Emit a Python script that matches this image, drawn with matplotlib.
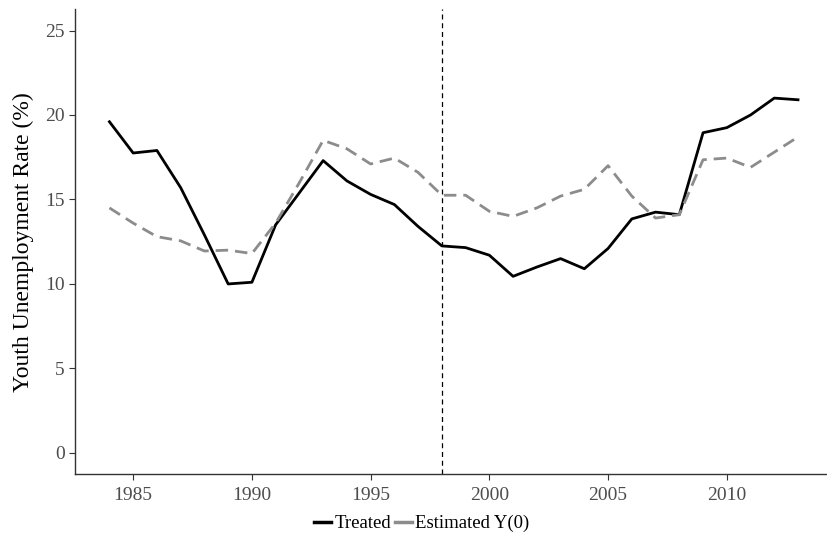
import matplotlib
matplotlib.use("Agg")
import matplotlib.pyplot as plt
from matplotlib.lines import Line2D

plt.rcParams["font.family"] = ["Liberation Serif", "DejaVu Serif"]

years = list(range(1984, 2014))
treated = [19.6, 17.75, 17.9, 15.7, 12.9, 10.0, 10.1, 13.5, 15.4, 17.3,
           16.1, 15.3, 14.7, 13.4, 12.25, 12.15, 11.7, 10.45, 11.0, 11.5,
           10.9, 12.1, 13.85, 14.25, 14.1, 18.95, 19.25, 20.0, 21.0, 20.9]
estimated = [14.5, 13.6, 12.8, 12.55, 11.95, 12.0, 11.8, 13.6, 16.0, 18.5,
             18.0, 17.1, 17.45, 16.6, 15.25, 15.25, 14.3, 14.0, 14.5, 15.2,
             15.6, 17.0, 15.2, 13.9, 14.1, 17.35, 17.45, 16.9, 17.8, 18.7]
treat_year = 1998

fig = plt.figure(figsize=(8.27, 5.4), dpi=100)
ax = fig.add_axes([0.0907, 0.1222, 0.9093, 0.8604])

ax.plot(years, treated, color="black", lw=2.0, label="Treated")
ax.plot(years, estimated, color="#8c8c8c", lw=2.0, ls=(0, (4.5, 2.5)), label="Estimated Y(0)")
ax.axvline(treat_year, color="black", lw=0.9, ls=(0, (4, 3)))

ax.set_xlim(1982.55, 2014.22)
ax.set_ylim(-1.25, 26.25)
ax.set_xticks([1985, 1990, 1995, 2000, 2005, 2010])
ax.set_yticks([0, 5, 10, 15, 20, 25])

for s in ["top", "right"]:
    ax.spines[s].set_visible(False)
for s in ["left", "bottom"]:
    ax.spines[s].set_color("#333333")
    ax.spines[s].set_linewidth(1.0)
ax.tick_params(colors="#333333", labelcolor="#4d4d4d", labelsize=14, length=4, width=0.8)
ax.tick_params(axis="x", pad=5)

ax.set_ylabel("Youth Unemployment Rate (%)", fontsize=17, color="black", labelpad=8)

handles = [Line2D([], [], color="black", lw=2.5),
           Line2D([], [], color="#8c8c8c", lw=2.5)]
fig.legend(handles, ["Treated", "Estimated Y(0)"], loc="center", bbox_to_anchor=(0.51, 0.03),
           ncol=2, frameon=False, fontsize=13.5, handlelength=0.9, handletextpad=0.2,
           columnspacing=0.2)

fig.savefig("out.png", dpi=100)
